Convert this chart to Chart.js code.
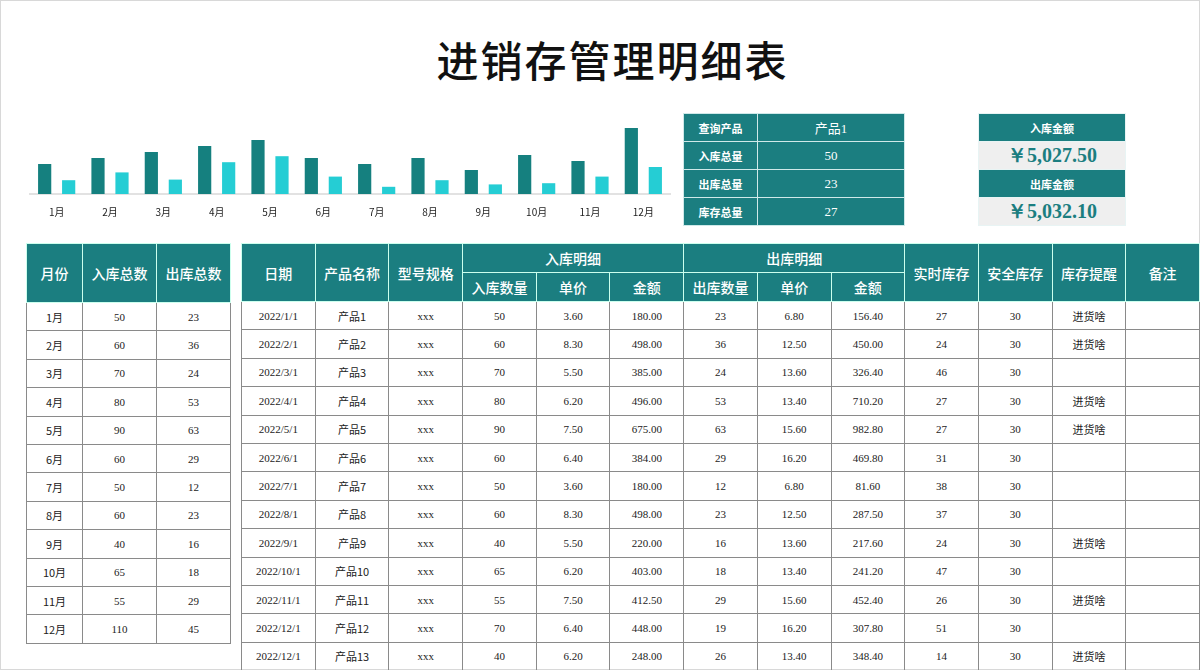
<!DOCTYPE html>
<html><head><meta charset="utf-8">
<script src="https://cdn.jsdelivr.net/npm/chart.js@4"></script>
<style>
body{margin:0;width:1200px;height:670px;background:#fff;font-family:"Noto Sans CJK SC","Noto Sans",sans-serif;position:relative;overflow:hidden}
#frame{position:absolute;left:0;top:0;width:1198px;height:668px;border:1px solid #d8d8d8}
#title{position:absolute;left:0;width:1225px;top:28px;text-align:center;font-size:42px;letter-spacing:2px;color:#111;font-family:"Noto Sans CJK SC";font-weight:500}
#chartbox{position:absolute;left:22px;top:122px;width:656px;height:100px}
table{position:absolute;border-collapse:collapse;table-layout:fixed}
td{border:1px solid #8a8a8a;text-align:center;font-size:11px;color:#222;padding:0;height:27.4px;font-family:"Liberation Serif","Noto Sans CJK SC",serif}
td.cn{font-family:"Noto Sans CJK SC"}
th{background:#1b7e80;color:#fff;border:1px solid #cfe;font-weight:500;font-size:14px;padding:0;font-family:"Noto Sans CJK SC"}
.q td{border:1px solid #cfe9e9;background:#1b7e80;color:#fff;height:27px}
.q td.l{font-size:11px;font-weight:700;font-family:"Noto Sans CJK SC"}
.q td.v{font-size:13px}
.m td{height:27px;border:1px solid #e8f4f4}
.m td.h{background:#1b7e80;color:#fff;font-size:11px;font-weight:700;font-family:"Noto Sans CJK SC"}
.m td.v{background:#efefef;color:#1b7e80;font-size:20px;font-weight:700;font-family:"Liberation Serif",serif}
</style></head><body>
<div id="frame"></div>
<div id="title">进销存管理明细表</div>
<div id="chartbox"><canvas id="c"></canvas></div>
<table class="q" style="left:683px;top:113px;width:222px"><colgroup><col style="width:74px"><col></colgroup><tbody id="qt"></tbody></table>
<table class="m" style="left:978px;top:113px;width:148px"><tbody>
<tr><td class="h">入库金额</td></tr><tr><td class="v" id="inAmt"></td></tr>
<tr><td class="h">出库金额</td></tr><tr><td class="v" id="outAmt"></td></tr></tbody></table>
<table id="lt" style="left:26px;top:243px;width:204px"></table>
<table id="rt" style="left:241px;top:243px;width:959px"></table>
<script>
const months=["1月","2月","3月","4月","5月","6月","7月","8月","9月","10月","11月","12月"];
const inTotal=[50,60,70,80,90,60,50,60,40,65,55,110];
const outTotal=[23,36,24,53,63,29,12,23,16,18,29,45];
const dates=["2022/1/1","2022/2/1","2022/3/1","2022/4/1","2022/5/1","2022/6/1","2022/7/1","2022/8/1","2022/9/1","2022/10/1","2022/11/1","2022/12/1","2022/12/1"];
const products=["产品1","产品2","产品3","产品4","产品5","产品6","产品7","产品8","产品9","产品10","产品11","产品12","产品13"];
const inQty=[50,60,70,80,90,60,50,60,40,65,55,70,40];
const inPrice=[3.6,8.3,5.5,6.2,7.5,6.4,3.6,8.3,5.5,6.2,7.5,6.4,6.2];
const inAmount=[180,498,385,496,675,384,180,498,220,403,412.5,448,248];
const outQty=[23,36,24,53,63,29,12,23,16,18,29,19,26];
const outPrice=[6.8,12.5,13.6,13.4,15.6,16.2,6.8,12.5,13.6,13.4,15.6,16.2,13.4];
const outAmount=[156.4,450,326.4,710.2,982.8,469.8,81.6,287.5,217.6,241.2,452.4,307.8,348.4];
const stock=[27,24,46,27,27,31,38,37,24,47,26,51,14];
const safeStock=[30,30,30,30,30,30,30,30,30,30,30,30,30];
const reminder=["进货啥","进货啥","","进货啥","进货啥","","","","进货啥","","进货啥","","进货啥"];
const query=[["查询产品","产品1"],["入库总量","50"],["出库总量","23"],["库存总量","27"]];
const inMoney="￥5,027.50", outMoney="￥5,032.10";

document.getElementById('qt').innerHTML=query.map(r=>`<tr><td class="l">${r[0]}</td><td class="v">${r[1]}</td></tr>`).join('');
document.getElementById('inAmt').textContent=inMoney;
document.getElementById('outAmt').textContent=outMoney;
const f=v=>v.toFixed(2);
let lt=`<colgroup><col style="width:56px"><col style="width:74px"><col style="width:74px"></colgroup><tr><th rowspan="2" style="height:58px">月份</th><th rowspan="2">入库总数</th><th rowspan="2">出库总数</th></tr><tr></tr>`;
months.forEach((m,i)=>lt+=`<tr><td class="cn">${m}</td><td>${inTotal[i]}</td><td>${outTotal[i]}</td></tr>`);
document.getElementById('lt').innerHTML=lt;
let rt=`<tr><th rowspan="2">日期</th><th rowspan="2">产品名称</th><th rowspan="2">型号规格</th><th colspan="3" style="height:28px">入库明细</th><th colspan="3">出库明细</th><th rowspan="2">实时库存</th><th rowspan="2">安全库存</th><th rowspan="2">库存提醒</th><th rowspan="2">备注</th></tr><tr><th style="height:28px">入库数量</th><th>单价</th><th>金额</th><th>出库数量</th><th>单价</th><th>金额</th></tr>`;
dates.forEach((d,i)=>rt+=`<tr><td>${d}</td><td class="cn">${products[i]}</td><td>xxx</td><td>${inQty[i]}</td><td>${f(inPrice[i])}</td><td>${f(inAmount[i])}</td><td>${outQty[i]}</td><td>${f(outPrice[i])}</td><td>${f(outAmount[i])}</td><td>${stock[i]}</td><td>${safeStock[i]}</td><td class="cn">${reminder[i]}</td><td></td></tr>`);
document.getElementById('rt').innerHTML=rt;

new Chart(document.getElementById('c'),{type:'bar',
data:{labels:months,datasets:[
{data:inTotal,backgroundColor:'#15807f',barPercentage:0.55,categoryPercentage:0.9},
{data:outTotal,backgroundColor:'#25cdd4',barPercentage:0.55,categoryPercentage:0.9}]},
options:{responsive:true,maintainAspectRatio:false,animation:false,
plugins:{legend:{display:false},tooltip:{enabled:false}},
layout:{padding:{left:8,right:8}},
scales:{y:{min:0,max:120,display:false},
x:{grid:{display:false},border:{color:'#e2e2e2',width:2},ticks:{color:'#222',font:{size:10,family:'Noto Sans CJK SC'},padding:4}}}}});
</script></body></html>
